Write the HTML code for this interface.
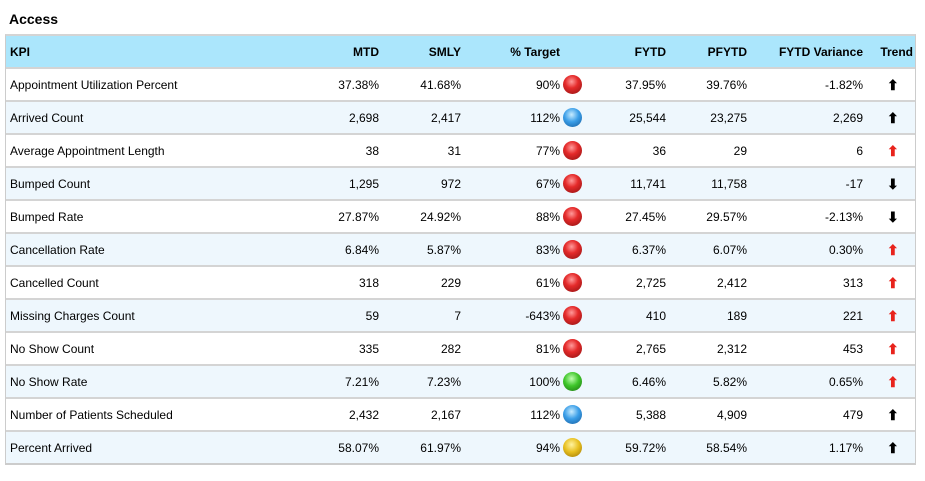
<!DOCTYPE html>
<html><head><style>
body{margin:0;background:#fff;font-family:"Liberation Sans",Arial,sans-serif;font-size:12px;color:#000;width:925px;height:481px;position:relative;overflow:hidden}
.t{position:absolute;left:9px;top:11px;font-weight:bold;font-size:14px}
.tbl{position:absolute;left:5px;top:34px;width:909px;border:1px solid #ccc;border-top:2px solid #d4d4d4}
.r{position:relative;height:31px;border-bottom:2px solid #d4d4d4;background:#fff}
.r:last-child{border-bottom:1px solid #ccc}
.r.a{background:#eef7fd}
.r.h{background:#abe6fc;font-weight:bold}
.c{position:absolute;top:9px;white-space:nowrap}
.k{left:4px}
.ball{position:absolute;top:6px;left:557px;width:19px;height:19px;border-radius:50%}
.red{background:radial-gradient(circle at 45% 35%,#ff9a9a 0,#e52a2a 40%,#8a1010 100%)}
.blue{background:radial-gradient(circle at 45% 35%,#c8ecff 0,#3a9ee8 45%,#155a9a 100%)}
.green{background:radial-gradient(circle at 45% 35%,#c0ffb0 0,#3ec62a 45%,#1a7010 100%)}
.yel{background:radial-gradient(circle at 45% 35%,#fff3a0 0,#e8c020 45%,#987000 100%)}
.ar{position:absolute;left:881px;top:8px;font-size:14px;font-weight:bold}
</style></head><body>
<div class="t">Access</div>
<div class="tbl" id="tb">
<div class="r h">
<span class="c k">KPI</span>
<span class="c" style="right:536px">MTD</span>
<span class="c" style="right:454px">SMLY</span>
<span class="c" style="right:355px">% Target</span>
<span class="c" style="right:249px">FYTD</span>
<span class="c" style="right:168px">PFYTD</span>
<span class="c" style="right:52px">FYTD Variance</span>
<span class="c" style="right:2px">Trend</span>
</div>
</div>
<script>
var d=[["Appointment Utilization Percent","37.38%","41.68%","90%","red","37.95%","39.76%","-1.82%",0],
["Arrived Count","2,698","2,417","112%","blue","25,544","23,275","2,269",0],
["Average Appointment Length","38","31","77%","red","36","29","6",1],
["Bumped Count","1,295","972","67%","red","11,741","11,758","-17",2],
["Bumped Rate","27.87%","24.92%","88%","red","27.45%","29.57%","-2.13%",2],
["Cancellation Rate","6.84%","5.87%","83%","red","6.37%","6.07%","0.30%",1],
["Cancelled Count","318","229","61%","red","2,725","2,412","313",1],
["Missing Charges Count","59","7","-643%","red","410","189","221",1],
["No Show Count","335","282","81%","red","2,765","2,312","453",1],
["No Show Rate","7.21%","7.23%","100%","green","6.46%","5.82%","0.65%",1],
["Number of Patients Scheduled","2,432","2,167","112%","blue","5,388","4,909","479",0],
["Percent Arrived","58.07%","61.97%","94%","yel","59.72%","58.54%","1.17%",0]];
var h="";d.forEach(function(r,i){
var col=r[8]==1?"#e8231c":"#000";
h+='<div class="r'+(i%2?' a':'')+'"><span class="c k">'+r[0]+'</span>'+
'<span class="c" style="right:536px">'+r[1]+'</span>'+
'<span class="c" style="right:454px">'+r[2]+'</span>'+
'<span class="c" style="right:355px">'+r[3]+'</span>'+
'<span class="ball '+r[4]+'"></span>'+
'<span class="c" style="right:249px">'+r[5]+'</span>'+
'<span class="c" style="right:168px">'+r[6]+'</span>'+
'<span class="c" style="right:52px">'+r[7]+'</span>'+
'<span class="ar" style="color:'+col+'">'+(r[8]==2?'&#11015;':'&#11014;')+'</span></div>';});
document.getElementById("tb").insertAdjacentHTML("beforeend",h);
</script>
</body></html>
